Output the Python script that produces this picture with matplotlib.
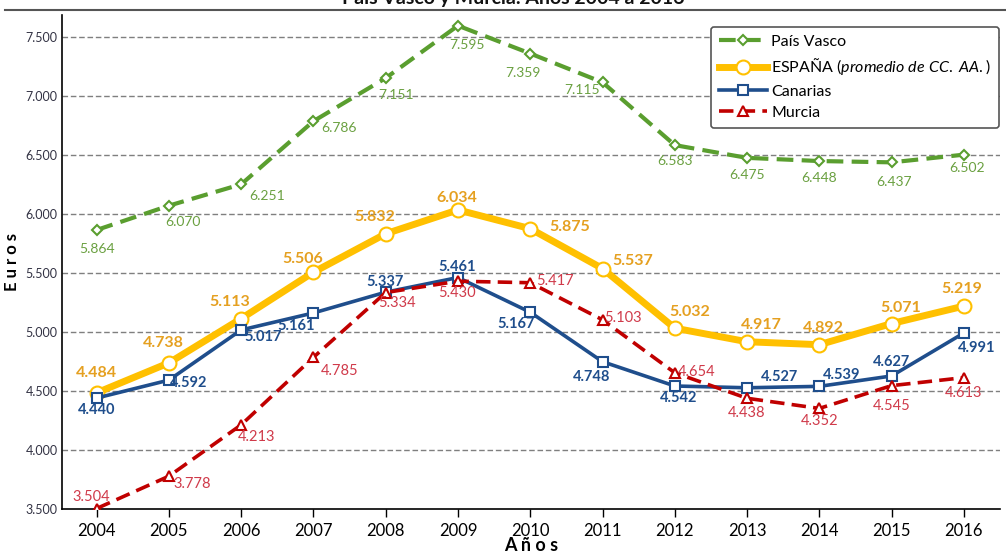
import matplotlib
matplotlib.use("Agg")
import matplotlib.pyplot as plt
from matplotlib.lines import Line2D

plt.rcParams["font.family"] = ["Lato", "DejaVu Sans"]
plt.rcParams["mathtext.fontset"] = "custom"
plt.rcParams["mathtext.it"] = "Lato:italic"
plt.rcParams["mathtext.rm"] = "Lato"

# ── Data ────────────────────────────────────────────────────────────────────
years = [2004, 2005, 2006, 2007, 2008, 2009, 2010, 2011, 2012, 2013, 2014, 2015, 2016]
pais_vasco = [5864, 6070, 6251, 6786, 7151, 7595, 7359, 7115, 6583, 6475, 6448, 6437, 6502]
espana = [4484, 4738, 5113, 5506, 5832, 6034, 5875, 5537, 5032, 4917, 4892, 5071, 5219]
canarias = [4440, 4592, 5017, 5161, 5337, 5461, 5167, 4748, 4542, 4527, 4539, 4627, 4991]
murcia = [3504, 3778, 4213, 4785, 5334, 5430, 5417, 5103, 4654, 4438, 4352, 4545, 4613]
y_ticks = [3500, 4000, 4500, 5000, 5500, 6000, 6500, 7000, 7500]

title = "País Vasco y Murcia. Años 2004 a 2016"

# label offsets (pixels) for each point's value label
off_pv = [(0, -19), (14, -16), (26, -12), (26, -7), (10, -17), (9, -19), (-7, -19),
          (-20, -8), (0, -16), (0, -17), (0, -17), (2, -20), (3, -13)]
off_es = [(0, 20), (-6, 20), (-11, 17), (-11, 13), (-11, 17), (-1, 12), (39, 2),
          (30, 8), (15, 16), (14, 17), (4, 17), (9, 16), (-2, 17)]
off_ca = [(0, -12), (20, -3), (22, -7), (-17, -13), (-1, 10), (-1, 11), (-14, -12),
          (-11, -15), (4, -12), (32, 11), (22, 11), (0, 14), (13, -15)]
off_mu = [(-5, 12), (23, -8), (15, -12), (26, -14), (11, -10), (-1, -12), (25, 2),
          (20, 2), (22, 1), (0, -15), (0, -13), (0, -20), (0, -15)]


def fmt(v):
    return f"{v:,}".replace(",", ".")


fig = plt.figure(figsize=(10.06, 5.53), dpi=100)
ax = fig.add_axes([0.0616, 0.0796, 0.9324, 0.8934])

ax.set_xlim(2003.52, 2016.5)
ax.set_ylim(3500, 7686)

for y in y_ticks[1:]:
    ax.axhline(y, color="#7f7f7f", lw=1.0, ls=(0, (4, 2)), zorder=0)

series = [
    (pais_vasco, "País Vasco", "#5a9e2f", (0, (4, 2)), 3.0, "D", 5.5, "#6aa040", "normal", 10, off_pv),
    (espana, "ESPAÑA $\\mathit{(promedio\\ de\\ CC.\\ AA.)}$", "#ffc000", "-", 5.0, "o", 10,
     "#e5a020", "bold", 11.5, off_es),
    (canarias, "Canarias", "#1f4e8c", "-", 2.6, "s", 7, "#1f4e8c", "bold", 10.5, off_ca),
    (murcia, "Murcia", "#c00000", (0, (4, 2)), 2.6, "^", 6.5, "#d03a4a", "normal", 10.5, off_mu),
]

for vals, lab, col, ls, lw, mk, ms, tcol, tw, tfs, offs in series:
    ax.plot(years, vals, color=col, ls=ls, lw=lw, marker=mk, ms=ms,
            mfc="white", mec=col, mew=1.5, label=lab, zorder=3)
    for x, v, (dx, dy) in zip(years, vals, offs):
        ax.annotate(fmt(v), (x, v), xytext=(dx, dy), textcoords="offset pixels",
                    ha="center", va="center", color=tcol, fontweight=tw,
                    fontsize=tfs, zorder=4)

ax.set_xticks(years)
ax.set_xticklabels([str(y) for y in years], fontsize=12)
ax.set_yticks(y_ticks)
ax.set_yticklabels([fmt(y) for y in y_ticks], fontsize=9, color="#333344")
ax.tick_params(axis="x", length=6, width=1, direction="out", pad=4)
ax.tick_params(axis="y", length=0, pad=3)

for s in ["top", "right"]:
    ax.spines[s].set_visible(False)
ax.spines["left"].set_linewidth(1.2)
ax.spines["bottom"].set_linewidth(1.2)

ax.set_ylabel("E u r o s", fontsize=12, fontweight="bold", labelpad=4)
ax.set_xlabel("A ñ o s", fontsize=13, fontweight="bold", labelpad=-1)

leg = ax.legend(loc="upper right", bbox_to_anchor=(0.999, 0.976), borderaxespad=0,
                fontsize=11.5, frameon=True, fancybox=True, edgecolor="#555555",
                framealpha=1, handlelength=3.0, handletextpad=0.3,
                labelspacing=0.45, borderpad=0.5)
leg.get_frame().set_linewidth(1.2)

# title (cut by the top edge of the image) and rule beneath it
fig.text(0.51, 1.003, title, ha="center", va="center", fontsize=14,
         fontweight="bold", color="#111111")
fig.add_artist(Line2D([0.005, 1.0], [0.982, 0.982], color="#555555", lw=1.5,
                      transform=fig.transFigure))

fig.savefig("out.png", dpi=100)
